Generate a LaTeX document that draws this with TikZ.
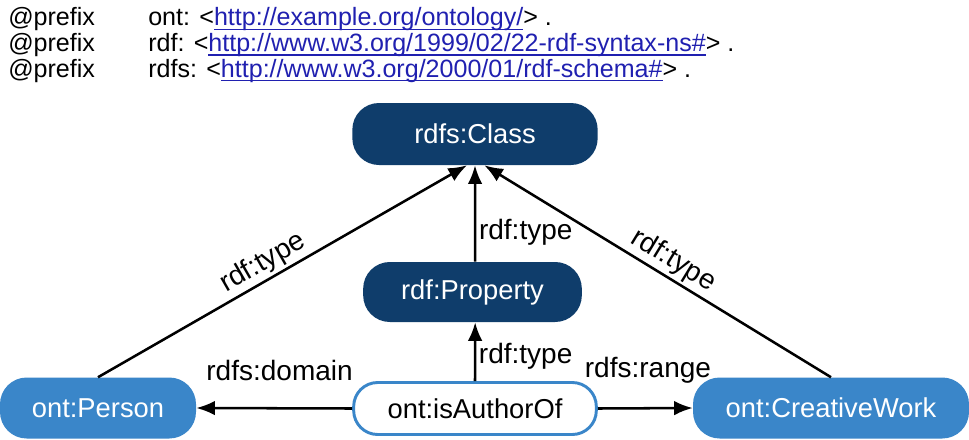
\documentclass[tikz,border=0pt]{standalone}
\usepackage{fontspec}
\setmainfont{Liberation Sans}
\usetikzlibrary{arrows.meta}
\usetikzlibrary{shapes}

\definecolor{navy}{HTML}{0F3D6B}
\definecolor{skyblue}{HTML}{3A86C9}
\definecolor{linkblue}{HTML}{2020B0}

\newcommand{\lnk}[1]{\textcolor{linkblue}{\setbox0\hbox{#1}\rlap{\rule[-3pt]{\wd0}{1pt}}\box0}}

\tikzset{
	darknode/.style={fill=navy, text=white, rounded corners=20pt,
		font=\fontsize{20.5}{23}\selectfont, inner sep=0pt},
	lightnode/.style={fill=skyblue, text=white, rounded corners=20pt,
		font=\fontsize{20.5}{23}\selectfont, inner sep=0pt},
	propnode/.style={draw=skyblue, fill=white, line width=2.2pt, rounded corners=18pt,
		font=\fontsize{20.5}{23}\selectfont, inner sep=0pt},
	edge/.style={line width=1.9pt, -{Latex[length=14pt,width=11pt]}},
	lbl/.style={font=\fontsize{21}{24}\selectfont, inner sep=2pt},
	pfx/.style={anchor=base west, inner sep=0pt, font=\fontsize{18.8}{21}\selectfont}
}

\begin{document}
\begin{tikzpicture}[x=0.75pt, y=-0.75pt]
	\useasboundingbox (0,0) rectangle (969,439);
	%% prefixes
	\node[pfx] (pfxont) at (8,26) {@prefix};
	\node[pfx] (pfxrdf) at (8,51.5) {@prefix};
	\node[pfx] (pfxrdfs) at (8,77) {@prefix};
	\node[pfx] (iriont) at (148,26)
		{ont: <\lnk{http://example.org/ontology/}> .};
	\node[pfx] (irirdf) at (148,51.5)
		{rdf: <\lnk{http://www.w3.org/1999/02/22-rdf-syntax-ns\#}> .};
	\node[pfx] (irirdfs) at (148,77)
		{rdfs: <\lnk{http://www.w3.org/2000/01/rdf-schema\#}> .};

	%% nodes
	\node[darknode, minimum width=184pt, minimum height=46.5pt]
		(class) at (475,134) {rdfs:Class};
	\node[darknode, minimum width=164pt, minimum height=45pt]
		(property) at (472.5,292) {rdf:Property};
	\node[lightnode, minimum width=147pt, minimum height=45.75pt]
		(person) at (98,408) {ont:Person};
	\node[lightnode, minimum width=207pt, minimum height=45.75pt]
		(work) at (831,408) {ont:CreativeWork};
	\node[propnode, minimum width=182pt, minimum height=39pt]
		(author) at (475,408.5) {ont:isAuthorOf};

	%% edges
	\draw[edge] (person.north) -- ([xshift=-6pt]class.south)
		node[lbl, sloped, above, pos=0.47] (typeperson) {rdf:type};
	\draw[edge] (work.north) -- ([xshift=7pt]class.south)
		node[lbl, sloped, above, pos=0.48] (typework) {rdf:type};
	\draw[edge] ([xshift=2pt]property.north) -- (class.south)
		node[lbl, anchor=base west, pos=0.23] (typeprop) {rdf:type};
	\draw[edge] (author.north) -- ([xshift=2pt]property.south)
		node[lbl, anchor=base west, pos=0.29] (typeauthor) {rdf:type};
	\draw[edge] (author.west) -- (person.east)
		node[lbl, anchor=base, midway, xshift=4pt, yshift=21pt] (domain) {rdfs:domain};
	\draw[edge] (author.east) -- (work.west)
		node[lbl, anchor=base, midway, xshift=2pt, yshift=23pt] (range) {rdfs:range};
\end{tikzpicture}
\end{document}
